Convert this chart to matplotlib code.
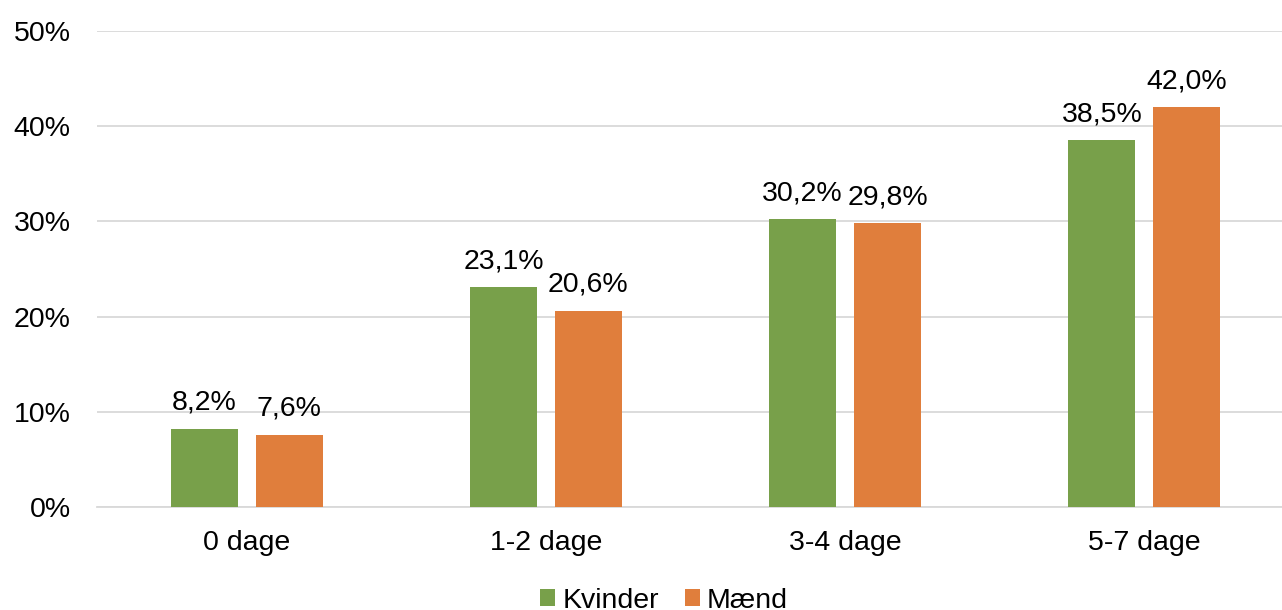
import matplotlib
matplotlib.use("Agg")
import matplotlib.pyplot as plt
import numpy as np

categories = ["0 dage", "1-2 dage", "3-4 dage", "5-7 dage"]
kvinder = [8.2, 23.1, 30.2, 38.5]
maend = [7.6, 20.6, 29.8, 42.0]
series_names = ["Kvinder", "Mænd"]
yticks = [0, 10, 20, 30, 40, 50]

plt.rcParams['font.family'] = ['Liberation Sans', 'DejaVu Sans']
green = "#78A04A"
orange = "#E07E3C"
FS = 20.5

fig = plt.figure(figsize=(12.82, 6.1), dpi=100)
W, H = 1282, 610
ax = fig.add_axes([97 / W, 1 - 507 / H, 1197 / W, 476 / H])

x = np.arange(len(categories))
w = 0.224
off = 0.142
b1 = ax.bar(x - off, kvinder, w, color=green, label=series_names[0], zorder=3)
b2 = ax.bar(x + off, maend, w, color=orange, label=series_names[1], zorder=3)

def fmt(v):
    return f"{v:.1f}%".replace(".", ",")

for bars, vals in ((b1, kvinder), (b2, maend)):
    for r, v in zip(bars, vals):
        ax.text(r.get_x() + r.get_width() / 2, v + 2.0, fmt(v), ha="center", va="baseline",
                fontsize=FS, color="#000000")

ax.set_xlim(-0.5, len(categories) - 0.5)
ax.set_ylim(0, 50)
ax.set_yticks(yticks)
ax.set_yticklabels([f"{t}%" for t in yticks], fontsize=FS)
ax.set_xticks(x)
ax.set_xticklabels(categories, fontsize=FS)
ax.tick_params(axis="y", length=0, pad=19)
ax.tick_params(axis="x", length=0, pad=16.5)
ax.grid(axis="y", color="#D9D9D9", linewidth=1.3, zorder=0)
for s in ["top", "right", "left"]:
    ax.spines[s].set_visible(False)
ax.spines["bottom"].set_color("#D9D9D9")
ax.spines["bottom"].set_linewidth(1.3)

fig.legend(handles=[b1, b2], labels=series_names, loc="center", ncol=2,
           bbox_to_anchor=(0.518, 0.015), frameon=False, fontsize=FS,
           handlelength=0.53, handleheight=0.53, handletextpad=0.25, columnspacing=0.9,
           borderpad=0, borderaxespad=0)

fig.savefig("out.png", dpi=100)
